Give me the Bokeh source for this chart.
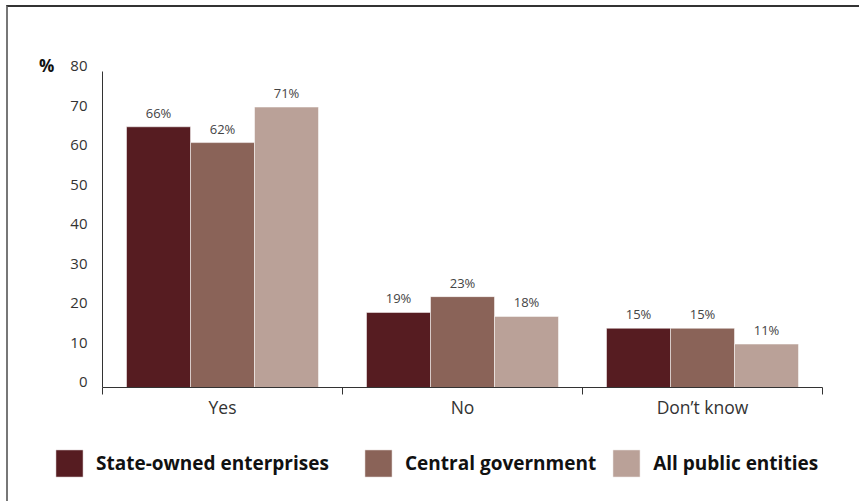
from bokeh.plotting import figure
from bokeh.models import (ColumnDataSource, FixedTicker, Legend, LegendItem, Range1d, Label,
                          LinearAxis)
from bokeh.core.properties import value
from bokeh.embed import file_html
from bokeh.resources import INLINE

categories = ["Yes", "No", "Don\u2019t know"]
series = ["State-owned enterprises", "Central government", "All public entities"]
soe = [66, 19, 15]
central = [62, 23, 15]
all_public = [71, 18, 11]
colors = ["#561c21", "#8a6358", "#baa198"]
y_ticks = [0, 10, 20, 30, 40, 50, 60, 70, 80]
y_max = 80

y0, y1 = -29.37, 96.2
# frame covers the whole canvas; axes are pinned with fixed_location + bounds
p = figure(width=853, height=496, output_backend="svg", toolbar_location=None,
           x_range=Range1d(-0.3917, 3.1625), y_range=Range1d(y0, y1),
           min_border=0, margin=(5, 0, 0, 6))
p.styles = {"border-top": "2px solid #333333", "border-left": "2px solid #777777"}
p.outline_line_color = None
p.xgrid.visible = False
p.ygrid.visible = False

w = 0.8 / 3
renderers = []
for k, (vals, col) in enumerate(zip([soe, central, all_public], colors)):
    xs = [i + 0.5 + (k - 1) * w for i in range(len(categories))]
    src = ColumnDataSource(dict(x=xs, top=vals, lab=[f"{v}%" for v in vals]))
    r = p.vbar(x="x", top="top", width=w, source=src, fill_color=col,
               line_color="#ffffff", line_alpha=0.5, line_width=1)
    renderers.append(r)
    p.text(x="x", y="top", text="lab", source=src, text_align="center",
           text_baseline="bottom", y_offset=-5, text_font=value("Open Sans"),
           text_font_size="13px", text_color="#444444")

# x axis
xa = p.xaxis[0]
xa.fixed_location = 0
xa.bounds = (0, len(categories))
xa.ticker = FixedTicker(ticks=[i + 0.5 for i in range(len(categories))],
                        minor_ticks=list(range(len(categories) + 1)))
xa.major_label_overrides = {i + 0.5: c for i, c in enumerate(categories)}
xa.major_tick_out = 0
xa.major_tick_in = 0
xa.minor_tick_out = 7
xa.minor_tick_in = 0
xa.minor_tick_line_color = "#333333"
xa.axis_line_color = "#333333"
xa.major_label_standoff = 1
xa.major_label_text_font = "Open Sans"
xa.major_label_text_font_size = "17.5px"
xa.major_label_text_color = "#333333"

# y axis: line only
ya = p.yaxis[0]
ya.fixed_location = 0
ya.bounds = (0, y_max)
ya.ticker = FixedTicker(ticks=[])
ya.major_tick_out = 0
ya.major_tick_in = 0
ya.minor_tick_out = 0
ya.minor_tick_in = 0
ya.axis_line_color = "#333333"

# y tick labels: drawn by a second axis whose range sits a few px higher
shift = 1.27
p.extra_y_ranges = {"labels": Range1d(y0 - shift, y1 - shift)}
yl = LinearAxis(y_range_name="labels", fixed_location=0, ticker=FixedTicker(ticks=y_ticks),
                axis_line_color=None, major_tick_line_color=None, minor_tick_line_color=None,
                major_label_standoff=9, major_label_text_font="Open Sans",
                major_label_text_font_size="15px", major_label_text_color="#333333")
p.add_layout(yl, "left")

p.add_layout(Label(x=-0.233, y=81.5, text="%", text_align="center", text_baseline="middle",
                   text_font="Open Sans", text_font_style="bold", text_font_size="17px",
                   text_color="#111111"))

legend_style = dict(orientation="horizontal", glyph_width=34, glyph_height=34,
                    label_standoff=10, padding=0, margin=0, border_line_color=None,
                    background_fill_alpha=0, label_text_font="Open Sans",
                    label_text_font_style="bold", label_text_font_size="19px",
                    label_text_color="#111111", label_height=34)
items = [LegendItem(label=s, renderers=[r]) for s, r in zip(series, renderers)]
p.add_layout(Legend(items=items[:1], location=(44, 23), spacing=0, **legend_style), "center")
p.add_layout(Legend(items=items[1:], location=(353, 23), spacing=13, **legend_style), "center")

open("out.html", "w").write(file_html(p, INLINE))
